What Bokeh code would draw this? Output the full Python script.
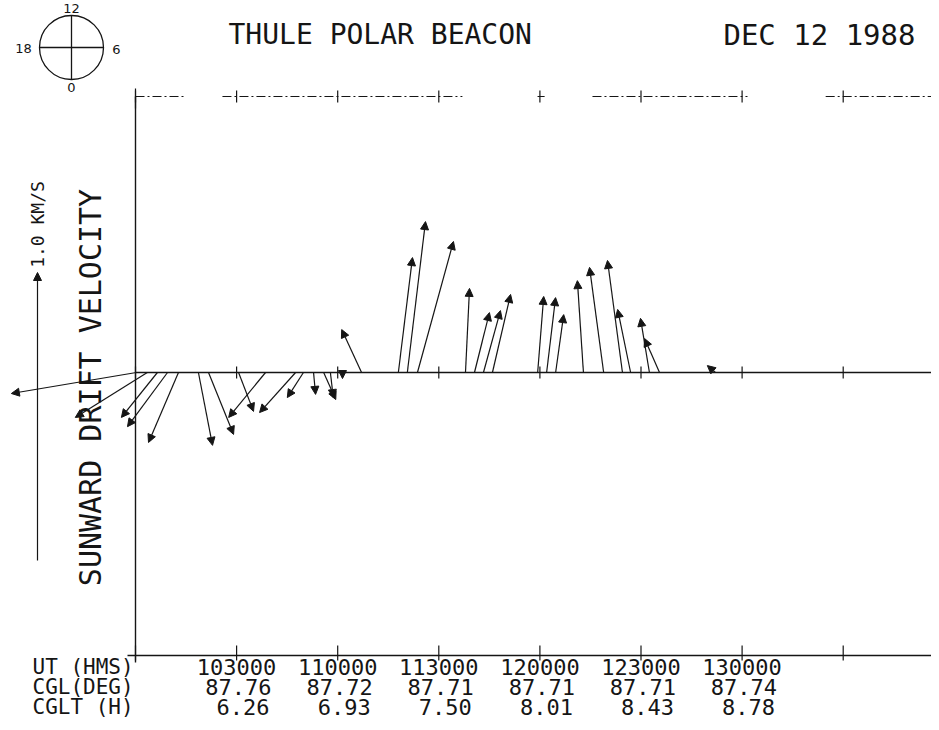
import numpy as np
from bokeh.plotting import figure
from bokeh.models import ColumnDataSource, Arrow, NormalHead
from bokeh.embed import file_html
from bokeh.resources import INLINE
from bokeh.core.properties import value

# ---------------- data ----------------
# start times of the drift measurements (UT, HHMMSS)
ut_start = ["100015", "100330", "100630", "100930", "101245", "101840", "102140",
            "103035", "103835", "104730", "104950", "105250", "105550", "105750",
            "110125", "110705", "111800", "112040", "112340", "113755", "114035",
            "114315", "114555", "115920", "120200", "120440", "121255", "121855",
            "122430", "122655", "123230", "123530", "125205"]
# sunward component (km/s, up positive)
v_sunward = [-0.073, -0.156, -0.156, -0.188, -0.243, -0.253, -0.215, -0.135, -0.156,
             -0.139, -0.087, -0.076, -0.094, -0.087, -0.021, 0.149, 0.399, 0.524,
             0.455, 0.292, 0.208, 0.215, 0.271, 0.264, 0.260, 0.201, 0.319, 0.365,
             0.389, 0.219, 0.188, 0.118, 0.024]
# dawnward component (km/s, towards 06 MLT = right positive)
v_dawnward = [-0.434, -0.250, -0.125, -0.139, -0.104, 0.049, 0.087, 0.052, -0.128,
              -0.125, -0.056, 0.007, 0.042, 0.010, 0.000, -0.069, 0.049, 0.063,
              0.125, 0.014, 0.052, 0.059, 0.063, 0.021, 0.031, 0.028, -0.021,
              -0.049, -0.052, -0.045, -0.031, -0.052, -0.028]

# data coverage intervals on the top line (minutes after 10:00 UT)
cover_start = [0.0, 25.8, 119.3, 135.6, 204.8]
cover_end = [14.8, 97.0, 121.4, 181.6, 238.6]

# axis ticks (minutes after 10:00 UT) and labels
tick_min = [0, 30, 60, 90, 120, 150, 180, 210]
ut_labels = ["103000", "110000", "113000", "120000", "123000", "130000"]
cgl_deg = ["87.76", "87.72", "87.71", "87.71", "87.71", "87.74"]
cglt_h = ["6.26", "6.93", "7.50", "8.01", "8.43", "8.78"]

scale_kms = 1.0  # reference arrow

title_left = "THULE POLAR BEACON"
title_right = "DEC 12 1988"

# ---------------- layout / scales ----------------
W, H = 931, 722
PX_PER_MIN = 3.37
PX_PER_KMS = 288.0
X0_PX = 135.0   # 10:00 UT (picture pixels)
Y0_PX = 372.0   # zero velocity line
OFF = 0.0       # figure origin in the picture


def X(px):
    return (px - X0_PX) / PX_PER_MIN


def Y(py):
    return (Y0_PX - py) / PX_PER_KMS


def to_min(hms):
    h, m, s = int(hms[0:2]), int(hms[2:4]), int(hms[4:6])
    return (h - 10) * 60 + m + s / 60.0


KMS_TO_MIN = PX_PER_KMS / PX_PER_MIN

p = figure(width=W, height=H, output_backend="svg", toolbar_location=None,
           x_range=(X(OFF), X(OFF + W)), y_range=(Y(OFF + H), Y(OFF)),
           min_border=0, outline_line_color=None)
p.xaxis.visible = False
p.yaxis.visible = False
p.xgrid.visible = False
p.ygrid.visible = False
p.background_fill_color = "white"

INK = "#151515"
FONT = value("DejaVu Sans Mono")

# frame lines
x_left = X(135)
x_right = X(OFF + W)
y_top = Y(96)
y_bot = Y(655)
p.segment(x0=[x_left], y0=[y_top], x1=[x_left], y1=[Y(662)], line_color=INK, line_width=1.4)
p.segment(x0=[X(127)], y0=[y_bot], x1=[x_right], y1=[y_bot], line_color=INK, line_width=1.6)
p.segment(x0=[x_left], y0=[0], x1=[x_right], y1=[0], line_color=INK, line_width=1.4)

# ticks
tk = np.array(tick_min, dtype=float)
h6 = 6 / PX_PER_KMS
p.segment(x0=tk, y0=np.full(len(tk), y_bot - 5 / PX_PER_KMS), x1=tk,
          y1=np.full(len(tk), y_bot + 10 / PX_PER_KMS), line_color=INK, line_width=1.2)
p.segment(x0=tk, y0=np.full(len(tk), -h6), x1=tk, y1=np.full(len(tk), h6),
          line_color=INK, line_width=1.2)
p.segment(x0=tk, y0=np.full(len(tk), y_top - h6), x1=tk, y1=np.full(len(tk), y_top + h6),
          line_color=INK, line_width=1.2)
p.segment(x0=[0], y0=[y_top - 12 / PX_PER_KMS], x1=[0], y1=[y_top + 8 / PX_PER_KMS],
          line_color=INK, line_width=1.2)

# coverage line on top
p.segment(x0=cover_start, y0=[y_top] * len(cover_start), x1=cover_end,
          y1=[y_top] * len(cover_end), line_color=INK, line_width=1.2, line_dash="9 3 2 3")

# drift vectors
t0 = np.array([to_min(s) for s in ut_start])
vs = np.array(v_sunward)
vd = np.array(v_dawnward)
src = ColumnDataSource(dict(x0=t0, y0=np.zeros_like(t0), x1=t0 + vd * KMS_TO_MIN, y1=vs))
p.add_layout(Arrow(end=NormalHead(size=8, fill_color=INK, line_color=INK, line_width=1),
                   x_start="x0", y_start="y0", x_end="x1", y_end="y1", source=src,
                   line_color=INK, line_width=1.2))

# scale arrow (1.0 km/s)
sx = X(37)
sy0 = Y(560)
p.add_layout(Arrow(end=NormalHead(size=8, fill_color=INK, line_color=INK, line_width=1),
                   x_start=sx, y_start=sy0, x_end=sx, y_end=sy0 + scale_kms,
                   line_color=INK, line_width=1.2))
p.text(x=[X(37)], y=[Y(224)], text=["%.1f KM/S" % scale_kms], angle=np.pi / 2,
       text_font=FONT, text_font_size="18px", text_align="center",
       text_baseline="middle", text_color=INK)
p.text(x=[X(90)], y=[Y(387)], text=["SUNWARD DRIFT VELOCITY"], angle=np.pi / 2,
       text_font=FONT, text_font_size="30px", text_align="center",
       text_baseline="middle", text_color=INK)

# title
p.text(x=[X(228)], y=[Y(34)], text=[title_left], text_font=FONT, text_font_size="28px",
       text_align="left", text_baseline="middle", text_color=INK)
p.text(x=[X(915)], y=[Y(34)], text=[title_right], text_font=FONT, text_font_size="29px",
       text_align="right", text_baseline="middle", text_color=INK)

# clock dial
cx, cy, r = 71, 47, 32
p.circle(x=[X(cx)], y=[Y(cy)], radius=r, radius_units="screen", fill_color=None,
         line_color=INK, line_width=1.3)
p.segment(x0=[X(cx - r), X(cx)], y0=[Y(cy), Y(cy - r)], x1=[X(cx + r), X(cx)],
          y1=[Y(cy), Y(cy + r)], line_color=INK, line_width=1.3)
p.text(x=[X(cx), X(cx + r + 13), X(cx), X(cx - r - 16)],
       y=[Y(cy - r - 7), Y(cy + 2), Y(cy + r + 8), Y(cy + 1)],
       text=["12", "6", "0", "18"], text_font=value("DejaVu Sans"), text_font_size="13px",
       text_align="center", text_baseline="middle", text_color=INK)

# bottom labels
lab_t = tk[1:1 + len(ut_labels)]
p.text(x=[X(32)] * 3, y=[Y(666), Y(686), Y(706)], text=["UT (HMS)", "CGL(DEG)", "CGLT (H)"],
       text_font=FONT, text_font_size="21px", text_align="left", text_baseline="middle",
       text_color=INK)
p.text(x=lab_t, y=[Y(666)] * len(lab_t), text=ut_labels, text_font=FONT,
       text_font_size="22px", text_align="center", text_baseline="middle", text_color=INK)
p.text(x=lab_t + 35 / PX_PER_MIN, y=[Y(686)] * len(lab_t), text=cgl_deg, text_font=FONT,
       text_font_size="22px", text_align="right", text_baseline="middle", text_color=INK)
p.text(x=lab_t + 33 / PX_PER_MIN, y=[Y(706)] * len(lab_t), text=cglt_h, text_font=FONT,
       text_font_size="22px", text_align="right", text_baseline="middle", text_color=INK)

open("out.html", "w").write(file_html(p, INLINE))
